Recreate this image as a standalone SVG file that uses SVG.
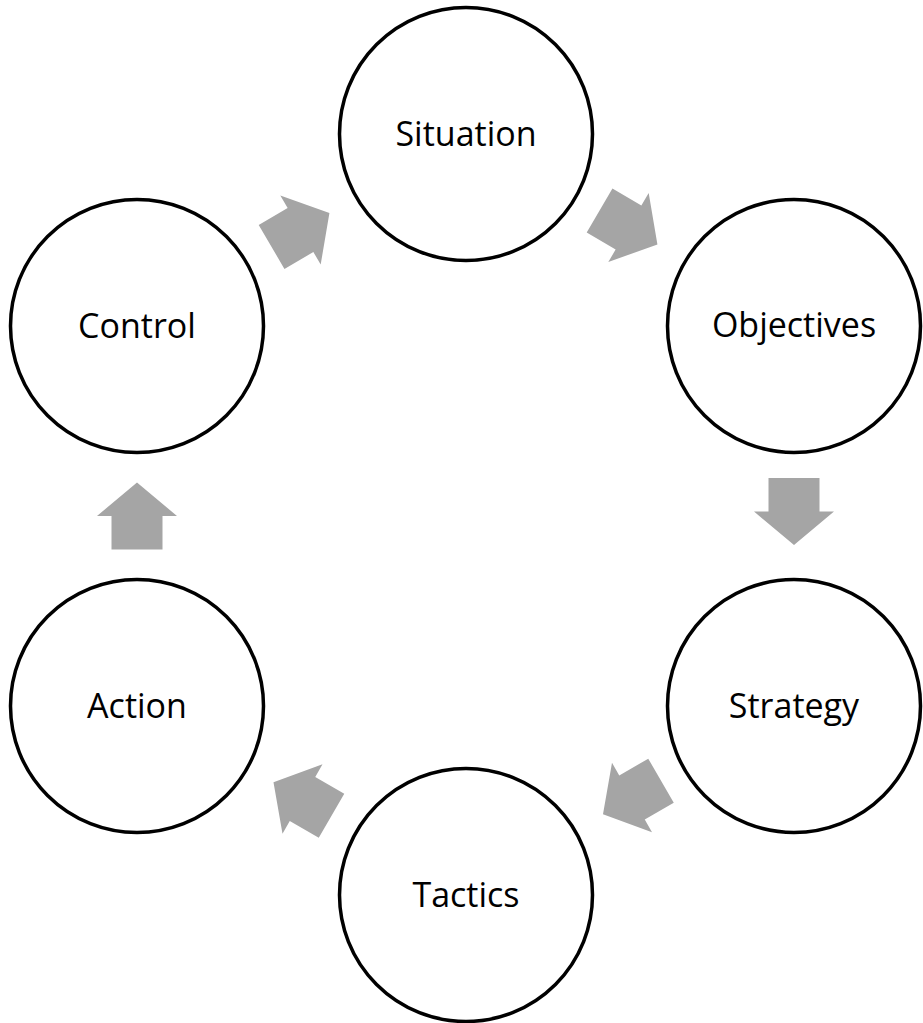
<svg xmlns="http://www.w3.org/2000/svg" width="923" height="1023" viewBox="0 0 923 1023">
<style>
.node circle{fill:#fff;stroke:#000;stroke-width:3.5}
.node text{font-family:"Open Sans","Liberation Sans",sans-serif;font-size:34px;fill:#000;text-anchor:middle}
.arr{fill:#A5A5A5}
</style>
<defs>
<path id="arrow" d="M-33.5,-25.5 L0,-25.5 L0,-40 L33.5,0 L0,40 L0,25.5 L-33.5,25.5 Z"/>
</defs>
<rect width="923" height="1023" fill="#fff"/>
<g id="connectors">
<use href="#arrow" class="arr" transform="translate(300.5,230) rotate(-30.3)"/>
<use href="#arrow" class="arr" transform="translate(628.5,227.5) rotate(30.3)"/>
<use href="#arrow" class="arr" transform="translate(794,511.5) rotate(90)"/>
<use href="#arrow" class="arr" transform="translate(632,797.5) rotate(150)"/>
<use href="#arrow" class="arr" transform="translate(302.5,799) rotate(-150)"/>
<use href="#arrow" class="arr" transform="translate(137,516) rotate(-90)"/>
</g>
<g id="situation" class="node"><circle cx="466" cy="134" r="126.5"/><text x="466" y="146">Situation</text></g>
<g id="objectives" class="node"><circle cx="794" cy="326" r="126.5"/><text x="794" y="337">Objectives</text></g>
<g id="strategy" class="node"><circle cx="794" cy="706" r="126.5"/><text x="794" y="718">Strategy</text></g>
<g id="tactics" class="node"><circle cx="466" cy="895" r="126.5"/><text x="466" y="907">Tactics</text></g>
<g id="action" class="node"><circle cx="137" cy="706" r="126.5"/><text x="137" y="718">Action</text></g>
<g id="control" class="node"><circle cx="137" cy="326" r="126.5"/><text x="137" y="338">Control</text></g>
</svg>
